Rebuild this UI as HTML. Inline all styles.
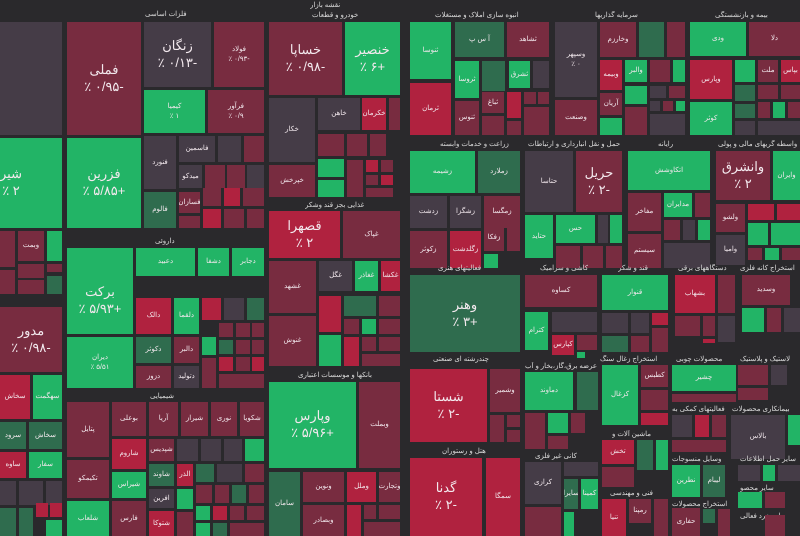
<!DOCTYPE html>
<html><head><meta charset="utf-8"><style>
body{margin:0;background:#2a292c;}
#c{position:relative;width:800px;height:536px;overflow:hidden;background:#2a292c;font-family:"Liberation Sans","Noto Sans CJK SC",sans-serif;color:#f3e9ee;}
#c div{position:absolute;box-sizing:border-box;display:flex;flex-direction:column;align-items:center;justify-content:center;text-align:center;font-size:7px;line-height:1.3;overflow:hidden;}
.g{background:#22b466}.m{background:#782c40}.r{background:#b0223f}.k{background:#453c47}.d{background:#2f6c4e}.n{background:#6a3046}
#c .l{background:none;font-size:7px;color:#ddd;display:block;white-space:nowrap;}
.big{font-size:13px!important}
</style></head><body><div id="c">
<div class="l" style="left:310px;top:1px">نقشه بازار</div>
<div class="l" style="left:145px;top:10px">فلزات اساسی</div>
<div class="l" style="left:312px;top:11px">خودرو و قطعات</div>
<div class="l" style="left:435px;top:11px">انبوه سازی املاک و مستغلات</div>
<div class="l" style="left:595px;top:11px">سرمایه گذاریها</div>
<div class="l" style="left:715px;top:11px">بیمه و بازنشستگی</div>
<!-- left col -->
<div class="k" style="left:0;top:22px;width:62px;height:113px"></div>
<div class="g big" style="left:0;top:138px;width:62px;height:90px;align-items:flex-start">شیر<br>٪ ۲</div>
<div class="m" style="left:0;top:231px;width:15px;height:36px"></div>
<div class="m" style="left:18px;top:231px;width:26px;height:30px">وبمت</div>
<div class="g" style="left:47px;top:231px;width:15px;height:30px"></div>
<div class="m" style="left:18px;top:264px;width:26px;height:14px"></div>
<div class="m" style="left:47px;top:264px;width:15px;height:8px"></div>
<div class="m" style="left:0;top:270px;width:15px;height:24px"></div>
<div class="m" style="left:18px;top:280px;width:26px;height:14px"></div>
<div class="d" style="left:47px;top:276px;width:15px;height:18px"></div>
<div class="m big" style="left:0;top:307px;width:62px;height:65px">مدور<br>٪ ۰/۹۸-</div>
<div class="r" style="left:0;top:375px;width:30px;height:44px">سخاش</div>
<div class="g" style="left:33px;top:375px;width:29px;height:44px">سهگمت</div>
<div class="d" style="left:0;top:422px;width:26px;height:27px">سرود</div>
<div class="d" style="left:29px;top:422px;width:33px;height:27px">سخاش</div>
<div class="r" style="left:0;top:452px;width:26px;height:26px">ساوه</div>
<div class="g" style="left:29px;top:452px;width:33px;height:26px">سفار</div>
<div class="k" style="left:0;top:481px;width:16px;height:24px"></div>
<div class="k" style="left:19px;top:481px;width:24px;height:24px"></div>
<div class="k" style="left:46px;top:481px;width:16px;height:24px"></div>
<div class="d" style="left:0;top:508px;width:16px;height:28px"></div>
<div class="d" style="left:19px;top:508px;width:14px;height:28px"></div>
<div class="r" style="left:36px;top:503px;width:12px;height:14px"></div>
<div class="r" style="left:50px;top:503px;width:12px;height:14px"></div>
<div class="g" style="left:46px;top:520px;width:16px;height:16px"></div>
<!-- metals -->
<div class="m big" style="left:67px;top:22px;width:74px;height:113px">فملی<br>٪ ۰/۹۵-</div>
<div class="k big" style="left:144px;top:22px;width:67px;height:65px">زنگان<br>٪ ۰/۱۳-</div>
<div class="m" style="left:214px;top:22px;width:50px;height:65px">فولاد<br>٪ ۰/۹۳-</div>
<div class="g" style="left:144px;top:90px;width:61px;height:43px">کیمیا<br>٪ ۱</div>
<div class="m" style="left:208px;top:90px;width:56px;height:43px">فرآور<br>٪ ۰/۹</div>
<div class="g big" style="left:67px;top:138px;width:74px;height:90px">فزرین<br>٪ ۵/۸۵+</div>
<div class="k" style="left:144px;top:136px;width:32px;height:53px">فنورد</div>
<div class="k" style="left:179px;top:136px;width:36px;height:26px">فاسمین</div>
<div class="k" style="left:218px;top:136px;width:23px;height:26px"></div>
<div class="m" style="left:244px;top:136px;width:20px;height:26px"></div>
<div class="k" style="left:179px;top:165px;width:23px;height:23px">میدکو</div>
<div class="m" style="left:205px;top:165px;width:20px;height:23px"></div>
<div class="m" style="left:227px;top:165px;width:18px;height:23px"></div>
<div class="k" style="left:247px;top:165px;width:17px;height:23px"></div>
<div class="d" style="left:144px;top:192px;width:32px;height:36px">فالوم</div>
<div class="m" style="left:179px;top:192px;width:21px;height:21px">فسازان</div>
<div class="m" style="left:203px;top:188px;width:18px;height:18px"></div>
<div class="r" style="left:224px;top:188px;width:16px;height:18px"></div>
<div class="m" style="left:243px;top:188px;width:21px;height:18px"></div>
<div class="m" style="left:179px;top:216px;width:21px;height:12px"></div>
<div class="r" style="left:203px;top:209px;width:18px;height:19px"></div>
<div class="m" style="left:224px;top:209px;width:20px;height:19px"></div>
<div class="m" style="left:247px;top:209px;width:17px;height:19px"></div>
<div class="l" style="left:155px;top:237px">داروئی</div>
<!-- pharma -->
<div class="g" style="left:67px;top:248px;width:66px;height:20px"></div>
<div class="g" style="left:136px;top:248px;width:59px;height:28px">دعبید</div>
<div class="g" style="left:198px;top:248px;width:31px;height:28px">دشفا</div>
<div class="g" style="left:232px;top:248px;width:32px;height:28px">دجابر</div>
<div class="g big" style="left:67px;top:268px;width:66px;height:66px">برکت<br>٪ ۵/۹۳+</div>
<div class="g" style="left:67px;top:337px;width:66px;height:51px">دیران<br>٪ ۵/۵۱</div>
<div class="r" style="left:136px;top:298px;width:35px;height:36px">دالک</div>
<div class="g" style="left:174px;top:298px;width:25px;height:36px">دلقما</div>
<div class="r" style="left:202px;top:298px;width:19px;height:22px"></div>
<div class="k" style="left:224px;top:298px;width:20px;height:22px"></div>
<div class="d" style="left:247px;top:298px;width:17px;height:22px"></div>
<div class="d" style="left:136px;top:337px;width:35px;height:26px">دکوثر</div>
<div class="m" style="left:174px;top:337px;width:25px;height:26px">دالبر</div>
<div class="g" style="left:202px;top:337px;width:14px;height:18px"></div>
<div class="m" style="left:219px;top:323px;width:14px;height:14px"></div>
<div class="m" style="left:236px;top:323px;width:14px;height:14px"></div>
<div class="m" style="left:252px;top:323px;width:12px;height:14px"></div>
<div class="m" style="left:136px;top:366px;width:35px;height:22px">دزوز</div>
<div class="k" style="left:174px;top:366px;width:25px;height:22px">دتولید</div>
<div class="m" style="left:202px;top:358px;width:14px;height:30px"></div>
<div class="d" style="left:219px;top:340px;width:14px;height:14px"></div>
<div class="m" style="left:236px;top:340px;width:14px;height:14px"></div>
<div class="m" style="left:252px;top:340px;width:12px;height:14px"></div>
<div class="r" style="left:219px;top:357px;width:14px;height:14px"></div>
<div class="m" style="left:236px;top:357px;width:14px;height:14px"></div>
<div class="r" style="left:252px;top:357px;width:12px;height:14px"></div>
<div class="m" style="left:219px;top:374px;width:45px;height:14px"></div>
<div class="l" style="left:150px;top:392px">شیمیایی</div>
<!-- chemicals -->
<div class="m" style="left:67px;top:402px;width:42px;height:55px">پتایل</div>
<div class="m" style="left:112px;top:402px;width:34px;height:34px">بوعلی</div>
<div class="m" style="left:149px;top:402px;width:29px;height:34px">آریا</div>
<div class="m" style="left:181px;top:402px;width:27px;height:34px">شیراز</div>
<div class="m" style="left:211px;top:402px;width:26px;height:34px">نوری</div>
<div class="m" style="left:240px;top:402px;width:24px;height:34px">شکویا</div>
<div class="r" style="left:112px;top:439px;width:34px;height:30px">شاروم</div>
<div class="m" style="left:149px;top:439px;width:25px;height:22px">شپدیس</div>
<div class="k" style="left:177px;top:439px;width:21px;height:22px"></div>
<div class="k" style="left:201px;top:439px;width:20px;height:22px"></div>
<div class="k" style="left:224px;top:439px;width:18px;height:22px"></div>
<div class="g" style="left:245px;top:439px;width:19px;height:22px"></div>
<div class="m" style="left:67px;top:460px;width:42px;height:38px">تکیمکو</div>
<div class="g" style="left:112px;top:472px;width:34px;height:26px">شیراس</div>
<div class="d" style="left:149px;top:464px;width:25px;height:22px">شاوند</div>
<div class="r" style="left:177px;top:464px;width:16px;height:22px">الذر</div>
<div class="d" style="left:196px;top:464px;width:18px;height:18px"></div>
<div class="k" style="left:217px;top:464px;width:25px;height:18px"></div>
<div class="m" style="left:245px;top:464px;width:19px;height:18px"></div>
<div class="g" style="left:67px;top:501px;width:42px;height:35px">شلعاب</div>
<div class="m" style="left:112px;top:501px;width:34px;height:35px">فارس</div>
<div class="k" style="left:149px;top:489px;width:25px;height:19px">افرین</div>
<div class="r" style="left:149px;top:511px;width:25px;height:25px">شتوکا</div>
<div class="g" style="left:177px;top:489px;width:16px;height:20px"></div>
<div class="m" style="left:196px;top:485px;width:16px;height:18px"></div>
<div class="m" style="left:215px;top:485px;width:14px;height:18px"></div>
<div class="d" style="left:232px;top:485px;width:14px;height:18px"></div>
<div class="m" style="left:249px;top:485px;width:15px;height:18px"></div>
<div class="m" style="left:177px;top:512px;width:16px;height:24px"></div>
<div class="g" style="left:196px;top:506px;width:14px;height:14px"></div>
<div class="r" style="left:213px;top:506px;width:14px;height:14px"></div>
<div class="m" style="left:230px;top:506px;width:14px;height:14px"></div>
<div class="m" style="left:247px;top:506px;width:17px;height:14px"></div>
<div class="g" style="left:196px;top:523px;width:14px;height:13px"></div>
<div class="d" style="left:213px;top:523px;width:14px;height:13px"></div>
<div class="m" style="left:230px;top:523px;width:34px;height:13px"></div>
<!-- auto -->
<div class="m big" style="left:269px;top:22px;width:73px;height:73px">خساپا<br>٪ ۰/۹۸-</div>
<div class="g big" style="left:345px;top:22px;width:55px;height:73px">خنصیر<br>٪ ۶+</div>
<div class="k" style="left:269px;top:98px;width:46px;height:64px">خکار</div>
<div class="k" style="left:318px;top:98px;width:42px;height:32px">خاهن</div>
<div class="r" style="left:362px;top:98px;width:24px;height:32px">خکرمان</div>
<div class="m" style="left:389px;top:98px;width:11px;height:32px"></div>
<div class="m" style="left:318px;top:134px;width:26px;height:22px"></div>
<div class="m" style="left:347px;top:134px;width:20px;height:22px"></div>
<div class="m" style="left:370px;top:134px;width:16px;height:22px"></div>
<div class="m" style="left:269px;top:165px;width:46px;height:32px">خپرخش</div>
<div class="g" style="left:318px;top:159px;width:26px;height:18px"></div>
<div class="g" style="left:318px;top:180px;width:26px;height:17px"></div>
<div class="m" style="left:347px;top:160px;width:16px;height:37px"></div>
<div class="r" style="left:366px;top:160px;width:12px;height:12px"></div>
<div class="m" style="left:381px;top:160px;width:12px;height:12px"></div>
<div class="m" style="left:366px;top:175px;width:12px;height:10px"></div>
<div class="r" style="left:381px;top:175px;width:12px;height:10px"></div>
<div class="m" style="left:366px;top:188px;width:27px;height:9px"></div>
<div class="l" style="left:305px;top:201px">غذایی بجز قند وشکر</div>
<!-- food -->
<div class="r big" style="left:269px;top:211px;width:71px;height:47px">قصهرا<br>٪ ۲</div>
<div class="m" style="left:343px;top:211px;width:57px;height:47px">غپاک</div>
<div class="m" style="left:269px;top:261px;width:47px;height:52px">غشهد</div>
<div class="k" style="left:319px;top:261px;width:33px;height:30px">غگل</div>
<div class="g" style="left:355px;top:261px;width:23px;height:30px">غغاذر</div>
<div class="r" style="left:381px;top:261px;width:19px;height:30px">غکشا</div>
<div class="m" style="left:269px;top:316px;width:47px;height:50px">غنوش</div>
<div class="r" style="left:319px;top:296px;width:22px;height:36px"></div>
<div class="d" style="left:344px;top:296px;width:32px;height:20px"></div>
<div class="m" style="left:379px;top:296px;width:21px;height:20px"></div>
<div class="g" style="left:319px;top:335px;width:22px;height:31px"></div>
<div class="m" style="left:344px;top:319px;width:15px;height:15px"></div>
<div class="g" style="left:362px;top:319px;width:14px;height:15px"></div>
<div class="m" style="left:379px;top:319px;width:21px;height:15px"></div>
<div class="r" style="left:344px;top:337px;width:15px;height:29px"></div>
<div class="m" style="left:362px;top:337px;width:14px;height:14px"></div>
<div class="m" style="left:379px;top:337px;width:21px;height:14px"></div>
<div class="m" style="left:362px;top:354px;width:38px;height:12px"></div>
<div class="l" style="left:298px;top:371px">بانکها و موسسات اعتباری</div>
<!-- banks -->
<div class="g big" style="left:269px;top:382px;width:87px;height:86px">وپارس<br>٪ ۵/۹۶+</div>
<div class="m" style="left:359px;top:382px;width:41px;height:86px">وبملت</div>
<div class="d" style="left:269px;top:472px;width:31px;height:64px">سامان</div>
<div class="m" style="left:303px;top:472px;width:41px;height:30px">ونوین</div>
<div class="r" style="left:347px;top:472px;width:29px;height:30px">وملل</div>
<div class="m" style="left:379px;top:472px;width:21px;height:30px">وتجارت</div>
<div class="m" style="left:303px;top:505px;width:41px;height:31px">وبصادر</div>
<div class="r" style="left:347px;top:505px;width:14px;height:31px"></div>
<div class="m" style="left:364px;top:505px;width:12px;height:14px"></div>
<div class="m" style="left:379px;top:505px;width:21px;height:14px"></div>
<div class="m" style="left:364px;top:522px;width:36px;height:14px"></div>
<!-- real estate -->
<div class="g" style="left:410px;top:22px;width:41px;height:57px">ثنوسا</div>
<div class="d" style="left:455px;top:22px;width:49px;height:35px">آ س پ</div>
<div class="m" style="left:507px;top:22px;width:42px;height:35px">ثشاهد</div>
<div class="g" style="left:455px;top:61px;width:24px;height:37px">ثروسا</div>
<div class="d" style="left:482px;top:61px;width:23px;height:30px"></div>
<div class="g" style="left:509px;top:61px;width:21px;height:27px">ثشرق</div>
<div class="k" style="left:533px;top:61px;width:16px;height:27px"></div>
<div class="r" style="left:410px;top:83px;width:41px;height:52px">ثرمان</div>
<div class="m" style="left:482px;top:92px;width:22px;height:21px">ثباغ</div>
<div class="r" style="left:507px;top:92px;width:14px;height:26px"></div>
<div class="m" style="left:524px;top:92px;width:12px;height:12px"></div>
<div class="m" style="left:538px;top:92px;width:11px;height:12px"></div>
<div class="m" style="left:455px;top:101px;width:24px;height:34px">ثنوس</div>
<div class="m" style="left:482px;top:116px;width:22px;height:19px"></div>
<div class="m" style="left:507px;top:121px;width:14px;height:14px"></div>
<div class="m" style="left:524px;top:107px;width:25px;height:28px"></div>
<!-- investments -->
<div class="k" style="left:555px;top:22px;width:42px;height:75px">وسپهر<br>٪ ۰</div>
<div class="m" style="left:555px;top:100px;width:42px;height:35px">وصنعت</div>
<div class="m" style="left:600px;top:22px;width:36px;height:35px">وخارزم</div>
<div class="d" style="left:639px;top:22px;width:25px;height:35px"></div>
<div class="m" style="left:667px;top:22px;width:18px;height:35px"></div>
<div class="r" style="left:600px;top:60px;width:22px;height:30px">وبیمه</div>
<div class="g" style="left:625px;top:60px;width:22px;height:22px">والبر</div>
<div class="m" style="left:650px;top:60px;width:20px;height:22px"></div>
<div class="g" style="left:673px;top:60px;width:12px;height:22px"></div>
<div class="m" style="left:600px;top:93px;width:22px;height:22px">آریان</div>
<div class="g" style="left:625px;top:86px;width:22px;height:18px"></div>
<div class="k" style="left:650px;top:86px;width:16px;height:12px"></div>
<div class="m" style="left:669px;top:86px;width:16px;height:12px"></div>
<div class="k" style="left:650px;top:101px;width:10px;height:10px"></div>
<div class="m" style="left:663px;top:101px;width:10px;height:10px"></div>
<div class="g" style="left:676px;top:101px;width:9px;height:10px"></div>
<div class="g" style="left:600px;top:118px;width:22px;height:17px"></div>
<div class="m" style="left:625px;top:107px;width:22px;height:28px"></div>
<div class="k" style="left:650px;top:114px;width:35px;height:21px"></div>
<!-- insurance -->
<div class="g" style="left:690px;top:22px;width:56px;height:34px">ودی</div>
<div class="m" style="left:749px;top:22px;width:51px;height:34px">دلا</div>
<div class="r" style="left:690px;top:60px;width:42px;height:39px">وپارس</div>
<div class="g" style="left:735px;top:60px;width:20px;height:22px"></div>
<div class="m" style="left:758px;top:60px;width:20px;height:22px">ملت</div>
<div class="r" style="left:781px;top:60px;width:19px;height:22px">بپاس</div>
<div class="g" style="left:690px;top:102px;width:42px;height:33px">کوثر</div>
<div class="d" style="left:735px;top:85px;width:20px;height:16px"></div>
<div class="d" style="left:735px;top:104px;width:20px;height:14px"></div>
<div class="k" style="left:735px;top:121px;width:20px;height:14px"></div>
<div class="m" style="left:758px;top:85px;width:20px;height:14px"></div>
<div class="m" style="left:781px;top:85px;width:19px;height:14px"></div>
<div class="m" style="left:758px;top:102px;width:12px;height:16px"></div>
<div class="g" style="left:773px;top:102px;width:12px;height:16px"></div>
<div class="m" style="left:788px;top:102px;width:12px;height:16px"></div>
<div class="k" style="left:758px;top:121px;width:42px;height:14px"></div>
<!-- row2 labels -->
<div class="l" style="left:440px;top:140px">زراعت و خدمات وابسته</div>
<div class="l" style="left:528px;top:140px">حمل و نقل انبارداری و ارتباطات</div>
<div class="l" style="left:658px;top:140px">رایانه</div>
<div class="l" style="left:718px;top:140px">واسطه گریهای مالی و پولی</div>
<div class="g" style="left:410px;top:151px;width:65px;height:42px">زشیمه</div>
<div class="d" style="left:478px;top:151px;width:42px;height:42px">زملارد</div>
<div class="k" style="left:410px;top:196px;width:37px;height:32px">زدشت</div>
<div class="k" style="left:450px;top:196px;width:31px;height:32px">زشگزا</div>
<div class="m" style="left:484px;top:196px;width:36px;height:32px">زمگسا</div>
<div class="m" style="left:410px;top:231px;width:37px;height:37px">زکوثر</div>
<div class="r" style="left:450px;top:231px;width:31px;height:37px">زگلدشت</div>
<div class="m" style="left:484px;top:224px;width:20px;height:27px">زفکا</div>
<div class="m" style="left:507px;top:224px;width:13px;height:27px"></div>
<div class="g" style="left:484px;top:254px;width:14px;height:14px"></div>
<div class="k" style="left:525px;top:151px;width:48px;height:61px">حتاسا</div>
<div class="m big" style="left:576px;top:151px;width:46px;height:61px">حریل<br>٪ ۲-</div>
<div class="g" style="left:525px;top:215px;width:28px;height:43px">حتاید</div>
<div class="g" style="left:556px;top:215px;width:39px;height:28px">حس</div>
<div class="k" style="left:598px;top:215px;width:10px;height:28px"></div>
<div class="g" style="left:610px;top:215px;width:12px;height:28px"></div>
<div class="m" style="left:556px;top:246px;width:24px;height:22px"></div>
<div class="m" style="left:583px;top:246px;width:20px;height:22px"></div>
<div class="m" style="left:606px;top:246px;width:16px;height:22px"></div>
<div class="g" style="left:628px;top:151px;width:82px;height:39px">اتکاوشش</div>
<div class="m" style="left:628px;top:193px;width:33px;height:38px">مفاخر</div>
<div class="g" style="left:664px;top:193px;width:28px;height:24px">مدایران</div>
<div class="m" style="left:695px;top:193px;width:15px;height:24px"></div>
<div class="m" style="left:628px;top:234px;width:33px;height:34px">سیستم</div>
<div class="m" style="left:664px;top:220px;width:16px;height:20px"></div>
<div class="k" style="left:683px;top:220px;width:12px;height:20px"></div>
<div class="g" style="left:698px;top:220px;width:12px;height:20px"></div>
<div class="k" style="left:664px;top:243px;width:46px;height:25px"></div>
<div class="m big" style="left:716px;top:151px;width:54px;height:49px">وانشرق<br>٪ ۲</div>
<div class="g" style="left:773px;top:151px;width:27px;height:49px">وایران</div>
<div class="m" style="left:716px;top:204px;width:29px;height:28px">ولشو</div>
<div class="r" style="left:748px;top:204px;width:26px;height:16px"></div>
<div class="r" style="left:777px;top:204px;width:23px;height:16px"></div>
<div class="k" style="left:716px;top:235px;width:29px;height:30px">وامیا</div>
<div class="g" style="left:748px;top:223px;width:20px;height:22px"></div>
<div class="g" style="left:771px;top:223px;width:29px;height:22px"></div>
<div class="m" style="left:748px;top:248px;width:14px;height:12px"></div>
<div class="g" style="left:765px;top:248px;width:14px;height:12px"></div>
<div class="m" style="left:782px;top:248px;width:18px;height:12px"></div>
<!-- row3 -->
<div class="l" style="left:438px;top:264px">فعالیتهای هنری</div>
<div class="l" style="left:540px;top:264px">کاشی و سرامیک</div>
<div class="l" style="left:618px;top:264px">قند و شکر</div>
<div class="l" style="left:678px;top:264px">دستگاههای برقی</div>
<div class="l" style="left:740px;top:264px">استخراج کانه فلزی</div>
<div class="d big" style="left:410px;top:275px;width:110px;height:77px">وهنر<br>٪ ۳+</div>
<div class="l" style="left:433px;top:355px">چندرشته ای صنعتی</div>
<div class="r big" style="left:410px;top:369px;width:77px;height:73px">شستا<br>٪ ۲-</div>
<div class="m" style="left:490px;top:369px;width:30px;height:43px">وشمیر</div>
<div class="m" style="left:490px;top:415px;width:14px;height:27px"></div>
<div class="m" style="left:507px;top:415px;width:13px;height:12px"></div>
<div class="m" style="left:507px;top:430px;width:13px;height:12px"></div>
<div class="l" style="left:442px;top:447px">هتل و رستوران</div>
<div class="r big" style="left:410px;top:458px;width:72px;height:78px">گدنا<br>٪ ۲-</div>
<div class="r" style="left:486px;top:458px;width:34px;height:78px">سمگا</div>
<div class="m" style="left:525px;top:275px;width:72px;height:32px">کساوه</div>
<div class="g" style="left:525px;top:312px;width:23px;height:38px">کترام</div>
<div class="k" style="left:552px;top:312px;width:45px;height:20px"></div>
<div class="r" style="left:552px;top:335px;width:22px;height:20px">کپارس</div>
<div class="m" style="left:577px;top:335px;width:20px;height:15px"></div>
<div class="g" style="left:577px;top:352px;width:8px;height:6px"></div>
<div class="l" style="left:525px;top:362px">عرضه برق،گاز،بخار و آب</div>
<div class="g" style="left:525px;top:372px;width:48px;height:38px">دماوند</div>
<div class="d" style="left:577px;top:372px;width:21px;height:38px"></div>
<div class="m" style="left:525px;top:413px;width:20px;height:36px"></div>
<div class="g" style="left:548px;top:413px;width:20px;height:20px"></div>
<div class="m" style="left:571px;top:413px;width:14px;height:20px"></div>
<div class="m" style="left:548px;top:436px;width:20px;height:13px"></div>
<div class="l" style="left:535px;top:452px">کانی غیر فلزی</div>
<div class="k" style="left:525px;top:462px;width:36px;height:42px">کرازی</div>
<div class="k" style="left:564px;top:462px;width:34px;height:14px"></div>
<div class="d" style="left:564px;top:479px;width:14px;height:30px">سایرا</div>
<div class="g" style="left:581px;top:479px;width:17px;height:30px">کمینا</div>
<div class="m" style="left:525px;top:507px;width:36px;height:29px"></div>
<div class="g" style="left:564px;top:512px;width:10px;height:24px"></div>
<div class="g" style="left:602px;top:275px;width:66px;height:35px">قنوار</div>
<div class="k" style="left:602px;top:313px;width:26px;height:20px"></div>
<div class="k" style="left:631px;top:313px;width:18px;height:20px"></div>
<div class="r" style="left:652px;top:313px;width:16px;height:12px"></div>
<div class="d" style="left:602px;top:336px;width:26px;height:16px"></div>
<div class="m" style="left:631px;top:336px;width:18px;height:16px"></div>
<div class="m" style="left:652px;top:328px;width:16px;height:24px"></div>
<div class="l" style="left:600px;top:355px">استخراج زغال سنگ</div>
<div class="g" style="left:602px;top:365px;width:36px;height:60px">کزغال</div>
<div class="m" style="left:641px;top:365px;width:27px;height:22px">کطبس</div>
<div class="m" style="left:641px;top:390px;width:27px;height:20px"></div>
<div class="r" style="left:641px;top:413px;width:27px;height:12px"></div>
<div class="l" style="left:612px;top:430px">ماشین آلات و</div>
<div class="r" style="left:602px;top:440px;width:32px;height:24px">تخش</div>
<div class="d" style="left:637px;top:440px;width:16px;height:30px"></div>
<div class="g" style="left:656px;top:440px;width:12px;height:30px"></div>
<div class="m" style="left:602px;top:467px;width:32px;height:20px"></div>
<div class="l" style="left:610px;top:489px">فنی و مهندسی</div>
<div class="r" style="left:602px;top:499px;width:24px;height:37px">تنیا</div>
<div class="m" style="left:629px;top:499px;width:22px;height:24px">رمپنا</div>
<div class="m" style="left:654px;top:499px;width:14px;height:37px"></div>
<div class="r" style="left:675px;top:275px;width:40px;height:38px">بشهاب</div>
<div class="m" style="left:718px;top:275px;width:17px;height:38px"></div>
<div class="m" style="left:675px;top:316px;width:25px;height:20px"></div>
<div class="m" style="left:703px;top:316px;width:12px;height:20px"></div>
<div class="k" style="left:718px;top:316px;width:17px;height:26px"></div>
<div class="r" style="left:703px;top:339px;width:12px;height:4px"></div>
<div class="l" style="left:676px;top:355px">محصولات چوبی</div>
<div class="g" style="left:672px;top:365px;width:64px;height:26px">چشیر</div>
<div class="m" style="left:672px;top:394px;width:64px;height:8px"></div>
<div class="l" style="left:672px;top:405px">فعالیتهای کمکی به</div>
<div class="k" style="left:672px;top:415px;width:20px;height:22px"></div>
<div class="r" style="left:695px;top:415px;width:14px;height:22px"></div>
<div class="m" style="left:712px;top:415px;width:14px;height:22px"></div>
<div class="m" style="left:672px;top:440px;width:54px;height:12px"></div>
<div class="l" style="left:672px;top:455px">وسایل منسوجات</div>
<div class="g" style="left:672px;top:465px;width:28px;height:32px">نطرین</div>
<div class="d" style="left:703px;top:465px;width:22px;height:32px">لیبام</div>
<div class="l" style="left:672px;top:500px">استخراج محصولات</div>
<div class="m" style="left:672px;top:508px;width:28px;height:28px">حفاری</div>
<div class="d" style="left:703px;top:509px;width:12px;height:14px"></div>
<div class="m" style="left:718px;top:509px;width:12px;height:27px"></div>
<div class="m" style="left:742px;top:275px;width:48px;height:30px">وسدید</div>
<div class="g" style="left:742px;top:308px;width:22px;height:24px"></div>
<div class="m" style="left:767px;top:308px;width:14px;height:24px"></div>
<div class="k" style="left:784px;top:308px;width:16px;height:24px"></div>
<div class="l" style="left:740px;top:355px">لاستیک و پلاستیک</div>
<div class="m" style="left:738px;top:365px;width:30px;height:20px"></div>
<div class="k" style="left:771px;top:365px;width:16px;height:20px"></div>
<div class="m" style="left:738px;top:388px;width:30px;height:12px"></div>
<div class="l" style="left:732px;top:405px">بیمانکاری محصولات</div>
<div class="k" style="left:731px;top:415px;width:54px;height:44px">بالاس</div>
<div class="g" style="left:788px;top:415px;width:12px;height:30px"></div>
<div class="l" style="left:740px;top:455px">سایر حمل اطلاعات</div>
<div class="k" style="left:738px;top:465px;width:22px;height:16px"></div>
<div class="g" style="left:763px;top:465px;width:12px;height:16px"></div>
<div class="k" style="left:778px;top:465px;width:22px;height:16px"></div>
<div class="l" style="left:740px;top:484px">سایر محصو</div>
<div class="g" style="left:738px;top:492px;width:24px;height:16px"></div>
<div class="m" style="left:765px;top:492px;width:20px;height:16px"></div>
<div class="l" style="left:740px;top:512px">چاپ خرد فعالی</div>
<div class="m" style="left:765px;top:515px;width:20px;height:21px"></div>
</div></body></html>
